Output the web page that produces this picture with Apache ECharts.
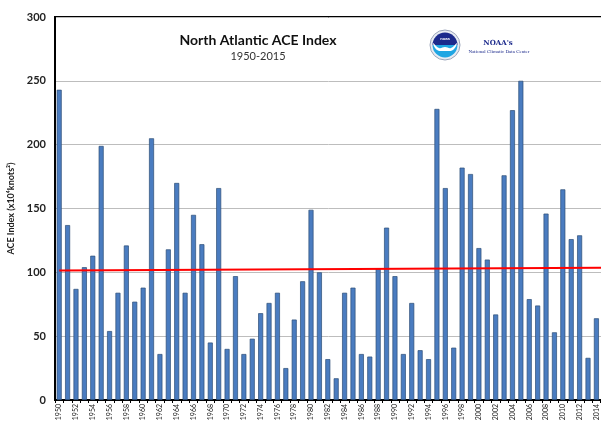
<!DOCTYPE html>
<html>
<head>
<meta charset="utf-8">
<script src="https://cdn.jsdelivr.net/npm/echarts@6/dist/echarts.min.js"></script>
<style>
    html, body { margin: 0; padding: 0; background: #fff; }
    #aceChart { width: 601px; height: 423px; }
</style>
</head>
<body>
<div id="aceChart"></div>
<script>
// years on the x axis
var years = [];
for (var y = 1950; y <= 2015; y++) years.push(String(y));

// ACE index per year (2015 falls just off the right edge)
var aceValues = [
    243, 137, 87, 104, 113, 199, 54, 84, 121, 77,
    88, 205, 36, 118, 170, 84, 145, 122, 45, 166,
    40, 97, 36, 48, 68, 76, 84, 25, 63, 93,
    149, 100, 32, 17, 84, 88, 36, 34, 103, 135,
    97, 36, 76, 39, 32, 228, 166, 41, 182, 177,
    119, 110, 67, 176, 227, 250, 79, 74, 146, 53,
    165, 126, 129, 33, 64, 63
];

// red reference line, start and end values
var refLine = [101.5, 103.7];

var yTicks = [0, 50, 100, 150, 200, 250, 300];

var chart = echarts.init(document.getElementById("aceChart"));
var font = "Lato, 'Open Sans', sans-serif";

var option = {
    animation: false,
    textStyle: { fontFamily: font },
    title: [
        {
            text: "North Atlantic ACE Index",
            left: 253,
            top: 28,
            textAlign: "center",
            textStyle: { fontSize: 14, fontWeight: "bold", color: "#111", fontFamily: font }
        },
        {
            text: "1950-2015",
            left: 253,
            top: 46,
            textAlign: "center",
            textStyle: { fontSize: 11, fontWeight: "normal", color: "#333", fontFamily: font }
        }
    ],
    grid: {
        left: 55,
        top: 17,
        bottom: 23,
        width: 554,
        containLabel: false,
        outerBoundsMode: "none",
        show: true,
        borderColor: "#000",
        borderWidth: 2
    },
    xAxis: {
        type: "category",
        data: years,
        axisLine: { lineStyle: { color: "#000", width: 2 } },
        axisTick: { show: true, interval: 0, length: 3, lineStyle: { color: "#000" } },
        axisLabel: {
            interval: 1,
            rotate: 90,
            fontSize: 7,
            margin: 4,
            color: "#222",
            hideOverlap: false
        }
    },
    yAxis: {
        type: "value",
        min: yTicks[0],
        max: yTicks[yTicks.length - 1],
        interval: 50,
        name: "ACE Index (x10⁴knots²)",
        nameLocation: "middle",
        nameGap: 38,
        nameTextStyle: { fontSize: 9, fontWeight: "bold", color: "#222" },
        axisLine: { show: true, lineStyle: { color: "#000", width: 2 } },
        axisTick: { show: false },
        axisLabel: { fontSize: 11, fontWeight: "bold", color: "#222", margin: 9 },
        splitLine: { lineStyle: { color: "#bdbdbd", width: 1 } }
    },
    series: [
        {
            name: "ACE",
            type: "bar",
            data: aceValues,
            barWidth: 5,
            itemStyle: {
                color: "#4a7cc0",
                borderColor: "#2c4d75",
                borderWidth: 0.7
            },
            markLine: {
                silent: true,
                symbol: "none",
                label: { show: false },
                lineStyle: { color: "#ff0000", width: 2, type: "solid" },
                data: [[
                    { coord: [years[0], refLine[0]] },
                    { coord: [years[years.length - 1], refLine[1]] }
                ]]
            }
        }
    ],
    graphic: [
        // NOAA logo
        {
            type: "circle", x: 445, y: 45,
            shape: { cx: 0, cy: 0, r: 15 },
            style: { fill: "#e8ecf3", stroke: "#9aa4b8", lineWidth: 1 }
        },
        {
            type: "circle", x: 445, y: 45,
            shape: { cx: 0, cy: 0, r: 12.5 },
            style: {
                fill: {
                    type: "linear", x: 0, y: 0, x2: 0, y2: 1,
                    colorStops: [
                        { offset: 0, color: "#1c2a8c" },
                        { offset: 0.5, color: "#1c2a8c" },
                        { offset: 0.5, color: "#20a6e3" },
                        { offset: 1, color: "#20a6e3" }
                    ]
                }
            }
        },
        {
            type: "polygon", x: 445, y: 45,
            shape: {
                points: [[-12, -2], [-6, 3], [0, 2], [6, 3], [12, -2], [8, 5], [0, 6], [-8, 5]],
                smooth: 0.4
            },
            style: { fill: "#ffffff" }
        },
        {
            type: "text", x: 445, y: 39,
            style: { text: "noaa", fill: "#fff", fontSize: 4, fontWeight: "bold", align: "center", verticalAlign: "middle" }
        },
        {
            type: "text", x: 498, y: 43,
            style: { text: "NOAA's", fill: "#1c2a8c", fontSize: 7, fontWeight: "bold", fontFamily: "'DejaVu Serif', serif", align: "center", verticalAlign: "middle" }
        },
        {
            type: "text", x: 499, y: 52,
            style: { text: "National Climatic Data Center", fill: "#1c2a8c", fontSize: 5, fontFamily: "'Liberation Serif', serif", align: "center", verticalAlign: "middle" }
        }
    ]
};

chart.setOption(option);
</script>
</body>
</html>
